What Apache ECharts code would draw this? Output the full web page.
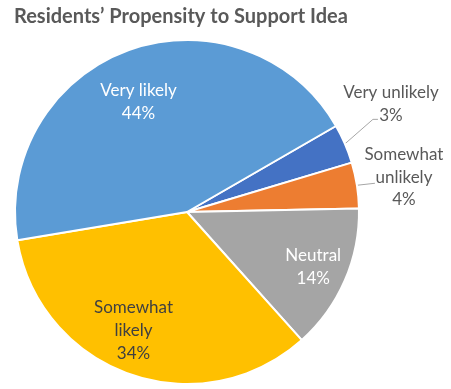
<!DOCTYPE html>
<html><head><meta charset="utf-8">
<script src="https://cdn.jsdelivr.net/npm/echarts@6/dist/echarts.min.js"></script>
<style>html,body{margin:0;padding:0;background:#fff}#c{width:451px;height:389px}</style>
</head><body><div id="c"></div>
<script>
var categories = ['Very unlikely', 'Somewhat unlikely', 'Neutral', 'Somewhat likely', 'Very likely'];
var labelNames = ['Very unlikely', 'Somewhat\nunlikely', 'Neutral', 'Somewhat\nlikely', 'Very likely'];
var values = [3.7, 4.3, 13.7, 34.0, 44.3];
var percentLabels = ['3%', '4%', '14%', '34%', '44%'];
var colors = ['#4472C4', '#ED7D31', '#A5A5A5', '#FFC000', '#5B9BD5'];
var labelColors = ['#595959', '#595959', '#ffffff', '#404040', '#ffffff'];
var outside = [true, true, false, false, false];

// label placement (styling, not data)
var CX = 187, CY = 212, R = 172;
var insidePlace = { 2: [0.80, 0], 3: [0.755, -5], 4: [0.70, 4] };           // [radius fraction, angle shift deg]
var outsidePlace = { 0: { c: [46, -40], l: [[-18, 15.5], [-13, 15.5]] },     // offsets from sector edge point
                     1: { c: [47, -8], l: [[-29, 6], [-29, 6]] } };

var FONT = 'Lato';
var data = categories.map(function (c, i) {
  return {
    name: c, value: values[i],
    itemStyle: { color: colors[i] },
    label: {
      show: true,
      position: outside[i] ? 'outside' : 'inside',
      color: labelColors[i],
      lineHeight: outside[i] ? 22.5 : 23
    },
    labelLine: { show: outside[i] }
  };
});
var chart = echarts.init(document.getElementById('c'), null, { renderer: 'canvas' });
chart.setOption({
  animation: false,
  title: {
    text: 'Residents\u2019 Propensity to Support Idea',
    left: 9, top: 2,
    textStyle: { fontFamily: FONT, fontWeight: 'bold', fontSize: 20, color: '#595959' }
  },
  series: [{
    type: 'pie',
    center: [CX, CY],
    radius: [0, R],
    startAngle: 30,
    clockwise: true,
    avoidLabelOverlap: false,
    itemStyle: { borderColor: '#fff', borderWidth: 2 },
    label: {
      fontFamily: FONT, fontSize: 17, overflow: 'none',
      formatter: function (p) { return labelNames[p.dataIndex] + '\n' + percentLabels[p.dataIndex]; }
    },
    labelLine: { length: 15, length2: 8, lineStyle: { color: '#A6A6A6', width: 1 } },
    labelLayout: function (p) {
      var i = p.dataIndex;
      if (outside[i]) {
        var o = outsidePlace[i];
        var p0 = p.labelLinePoints && p.labelLinePoints[0];
        if (!p0) return {};
        var x = p0[0] + o.c[0], y = p0[1] + o.c[1];
        return {
          x: x, y: y, align: 'center', verticalAlign: 'middle',
          labelLinePoints: [[p0[0], p0[1]], [x + o.l[0][0], y + o.l[0][1]], [x + o.l[1][0], y + o.l[1][1]]]
        };
      } else {
        var pl = insidePlace[i];
        var lx = p.labelRect.x + p.labelRect.width / 2, ly = p.labelRect.y + p.labelRect.height / 2;
        var ang = Math.atan2(ly - CY, lx - CX) - pl[1] * Math.PI / 180;
        return {
          x: CX + R * pl[0] * Math.cos(ang), y: CY + R * pl[0] * Math.sin(ang),
          align: 'center', verticalAlign: 'middle'
        };
      }
    },
    emphasis: { disabled: true },
    data: data
  }]
});
</script></body></html>
